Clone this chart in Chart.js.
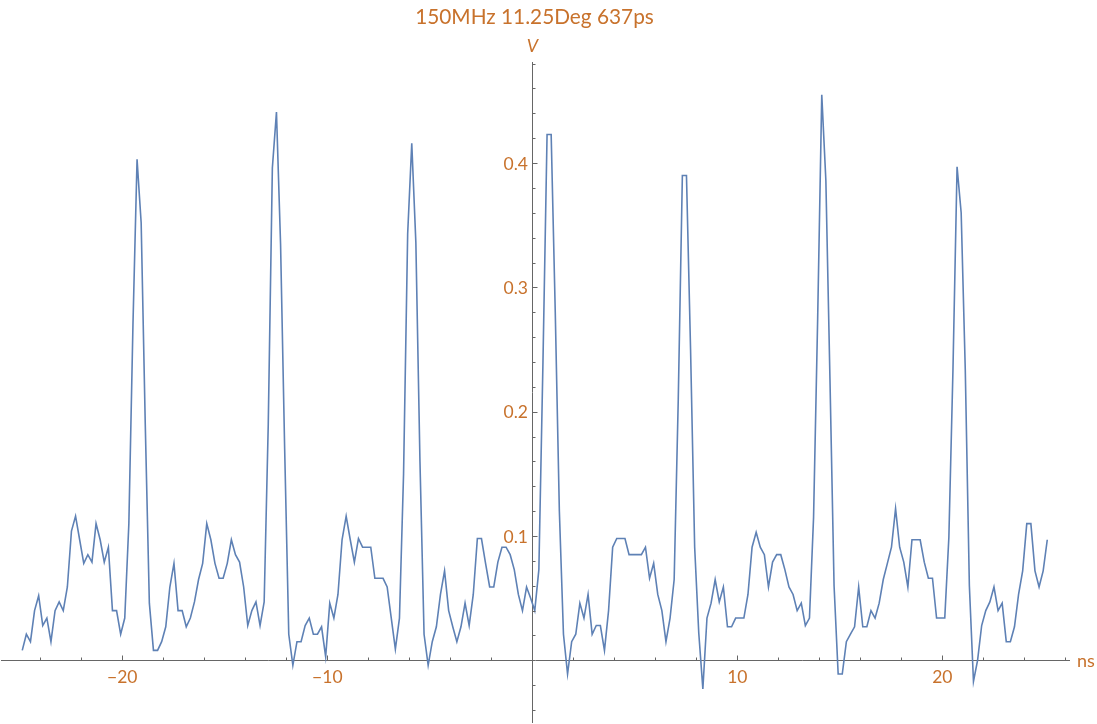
<!DOCTYPE html>
<html>
<head>
<meta charset="utf-8">
<script src="https://cdn.jsdelivr.net/npm/chart.js@4.4.1/dist/chart.umd.min.js"></script>
<style>
  html, body { margin: 0; padding: 0; background: #fff; }
  #wrap { width: 1097px; height: 724px; }
</style>
</head>
<body>
<div id="wrap"><canvas id="chart" width="1097" height="724"></canvas></div>
<script>
// sample grid of the scope trace (ns)
const T0 = -24.88;
const DT = 0.2;

// voltage samples (V)
const VOLTS = [
  0.008, 0.021, 0.015, 0.040, 0.052, 0.028, 0.034, 0.015, 0.040, 0.047,
  0.040, 0.059, 0.104, 0.116, 0.097, 0.078, 0.085, 0.079, 0.110, 0.097,
  0.079, 0.091, 0.040, 0.040, 0.021, 0.034, 0.110, 0.270, 0.403, 0.352,
  0.190, 0.046, 0.008, 0.008, 0.015, 0.027, 0.059, 0.078, 0.040, 0.040,
  0.027, 0.034, 0.047, 0.065, 0.078, 0.110, 0.097, 0.078, 0.066, 0.066,
  0.078, 0.097, 0.085, 0.079, 0.059, 0.028, 0.040, 0.047, 0.028, 0.047,
  0.190, 0.396, 0.441, 0.335, 0.170, 0.021, -0.004, 0.015, 0.015, 0.028,
  0.034, 0.021, 0.021, 0.027, 0.003, 0.046, 0.034, 0.053, 0.097, 0.116,
  0.097, 0.079, 0.098, 0.091, 0.091, 0.091, 0.066, 0.066, 0.066, 0.059,
  0.034, 0.009, 0.034, 0.150, 0.343, 0.416, 0.336, 0.160, 0.021, -0.004,
  0.015, 0.027, 0.053, 0.072, 0.040, 0.027, 0.015, 0.027, 0.046, 0.028,
  0.053, 0.098, 0.098, 0.078, 0.059, 0.059, 0.079, 0.091, 0.091, 0.085,
  0.073, 0.053, 0.040, 0.059, 0.050, 0.040, 0.073, 0.240, 0.423, 0.423,
  0.280, 0.120, 0.021, -0.011, 0.015, 0.021, 0.046, 0.034, 0.053, 0.021,
  0.028, 0.028, 0.008, 0.040, 0.091, 0.098, 0.098, 0.098, 0.085, 0.085,
  0.085, 0.085, 0.091, 0.066, 0.078, 0.053, 0.040, 0.015, 0.034, 0.065,
  0.210, 0.390, 0.390, 0.250, 0.091, 0.022, -0.023, 0.034, 0.046, 0.065,
  0.047, 0.059, 0.027, 0.027, 0.034, 0.034, 0.034, 0.053, 0.091, 0.103,
  0.091, 0.085, 0.059, 0.079, 0.085, 0.085, 0.073, 0.059, 0.053, 0.040,
  0.046, 0.028, 0.034, 0.115, 0.275, 0.455, 0.386, 0.226, 0.060, -0.011,
  -0.011, 0.015, 0.021, 0.027, 0.059, 0.027, 0.027, 0.040, 0.034, 0.046,
  0.065, 0.078, 0.091, 0.122, 0.091, 0.079, 0.059, 0.097, 0.097, 0.097,
  0.079, 0.066, 0.066, 0.034, 0.034, 0.034, 0.099, 0.234, 0.397, 0.360,
  0.234, 0.060, -0.017, 0.000, 0.028, 0.040, 0.047, 0.059, 0.040, 0.046,
  0.015, 0.015, 0.027, 0.053, 0.072, 0.110, 0.110, 0.072, 0.059, 0.072,
  0.097
];

const X_TICKS = [-20, -10, 10, 20];
const Y_TICKS = [0.1, 0.2, 0.3, 0.4];
const TITLE = "150MHz 11.25Deg 637ps";

const ORANGE = "rgb(200,114,44)";
const AXIS = "#666666";
const LINE = "#5e81b5";
const FONT = "Lato, 'Open Sans', sans-serif";

const points = VOLTS.map((v, i) => ({ x: T0 + i * DT, y: v }));

// minor ticks every 2 ns / 0.02 V, like the Mathematica axes
const xMinor = [];
for (let t = -24; t <= 26; t += 2) if (t !== 0) xMinor.push(t);
const yMinor = [];
for (let k = -2; k <= 24; k++) if (k !== 0) yMinor.push(k * 0.02);

const fmtX = (v) => (v < 0 ? "\u2212" + Math.abs(v) : String(v));

const axesPlugin = {
  id: "mmaAxes",
  afterDraw(chart) {
    const { ctx } = chart;
    const xs = chart.scales.x, ys = chart.scales.y;
    const x0 = Math.round(xs.getPixelForValue(0)) + 0.5;
    const y0 = Math.round(ys.getPixelForValue(0)) + 0.5;

    ctx.save();
    ctx.strokeStyle = AXIS;
    ctx.lineWidth = 1;
    ctx.beginPath();
    xMinor.forEach((t) => {
      const px = Math.round(xs.getPixelForValue(t)) + 0.5;
      const len = X_TICKS.includes(t) ? 5 : 3;
      ctx.moveTo(px, y0);
      ctx.lineTo(px, y0 - len);
    });
    yMinor.forEach((v) => {
      const py = Math.round(ys.getPixelForValue(v)) + 0.5;
      const major = Y_TICKS.some((m) => Math.abs(m - v) < 1e-9);
      ctx.moveTo(x0, py);
      ctx.lineTo(x0 + (major ? 5 : 3), py);
    });
    ctx.stroke();

    ctx.fillStyle = ORANGE;
    ctx.font = "17.5px " + FONT;
    ctx.textAlign = "center";
    ctx.textBaseline = "middle";
    X_TICKS.forEach((t) => {
      ctx.fillText(fmtX(t), xs.getPixelForValue(t), y0 + 17);
    });
    ctx.textAlign = "right";
    Y_TICKS.forEach((v) => {
      ctx.fillText(v.toFixed(1), x0 - 4.5, ys.getPixelForValue(v) + 1);
    });

    // axis names
    ctx.font = "18px " + FONT;
    ctx.textAlign = "left";
    ctx.fillText("ns", 1077, y0 + 1);
    ctx.font = "italic 18px " + FONT;
    ctx.textAlign = "center";
    ctx.fillText("V", x0, 46);

    // title
    ctx.font = "20.8px " + FONT;
    ctx.textBaseline = "alphabetic";
    ctx.fillText(TITLE, 534.5, 24);
    ctx.restore();
  }
};

new Chart(document.getElementById("chart"), {
  type: "line",
  data: {
    datasets: [{
      data: points,
      borderColor: LINE,
      borderWidth: 1.6,
      pointRadius: 0,
      tension: 0,
      fill: false
    }]
  },
  options: {
    responsive: false,
    animation: false,
    devicePixelRatio: 1,
    layout: { padding: { left: 1, right: 28, top: 62, bottom: 2 } },
    plugins: { legend: { display: false }, title: { display: false }, tooltip: { enabled: false } },
    scales: {
      x: {
        type: "linear",
        min: -25.917,
        max: 26.18,
        position: { y: 0 },
        grid: { display: false, drawTicks: false },
        border: { display: true, color: AXIS, width: 1 },
        ticks: { display: false }
      },
      y: {
        type: "linear",
        min: -0.0496,
        max: 0.4813,
        position: { x: 0 },
        grid: { display: false, drawTicks: false },
        border: { display: true, color: AXIS, width: 1 },
        ticks: { display: false }
      }
    }
  },
  plugins: [axesPlugin]
});
</script>
</body>
</html>
